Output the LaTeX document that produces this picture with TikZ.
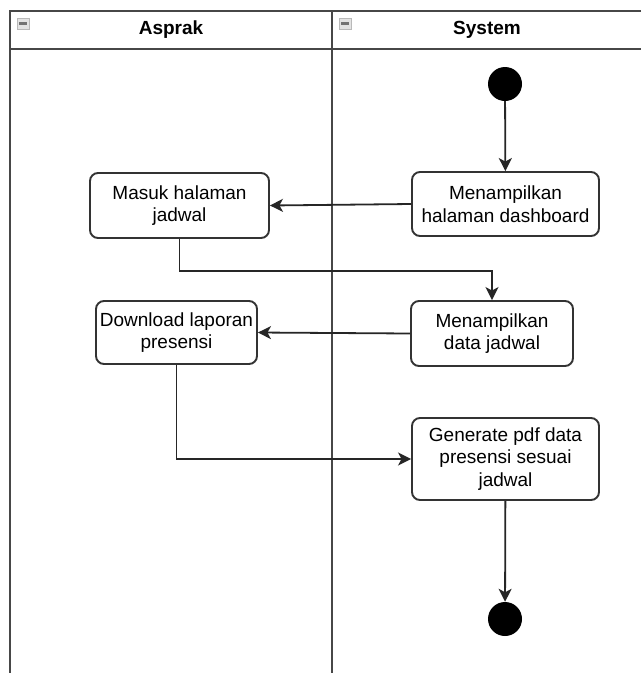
\documentclass[tikz,border=0pt]{standalone}
\usepackage{fontspec}
\setmainfont{Liberation Sans}
\usetikzlibrary{arrows.meta}
\begin{document}
\begin{tikzpicture}[x=1pt,y=-1pt,
  lane/.style={draw=black!72, line width=2.1pt},
  act/.style={draw=black!80, line width=1.9pt, rounded corners=8pt, fill=white,
    align=center, inner sep=0pt, font=\fontsize{19}{22.6}\selectfont},
  flow/.style={draw=black!85, line width=1.8pt,
    -{Stealth[length=13pt,width=13pt,inset=3.5pt]}},
  dot/.style={circle, fill=black, minimum size=34pt, inner sep=0pt},
  lanehead/.style={inner sep=0pt, font=\fontsize{19}{22}\selectfont\bfseries},
  foldbox/.style={draw=gray!55, fill=gray!22, line width=0.6pt},
  foldbar/.style={fill=black!55}
]
\useasboundingbox (0,0) rectangle (641,673);
\fill[white] (0,0) rectangle (641,673);

% pool outline and lane separators
\draw[lane] (641,11) -- (10,11) -- (10,673);
\draw[lane] (10,49) -- (641,49);
\draw[lane] (332,11) -- (332,673);

% collapse markers in the lane headers
\draw[foldbox] (17,18) rectangle (29,29);
\fill[foldbar] (19,22.3) rectangle (27,25.3);
\draw[foldbox] (339,18) rectangle (351,29);
\fill[foldbar] (341,22.3) rectangle (349,25.3);

% lane titles
\node[lanehead] (asprak) at (171,30) {Asprak};
\node[lanehead] (system) at (487,30) {System};

% activities
\node[dot] (start) at (505,84) {};
\node[act, minimum width=187pt, minimum height=64pt] (dash) at (505.5,204)
  {Menampilkan\\halaman dashboard};
\node[act, minimum width=179pt, minimum height=65pt] (masuk) at (179.5,205.5)
  {Masuk halaman\\jadwal};
\node[act, minimum width=162pt, minimum height=65pt] (data) at (492,333.5)
  {Menampilkan\\data jadwal};
\node[act, minimum width=161pt, minimum height=63pt] (download) at (176.5,332.5)
  {Download laporan\\presensi};
\node[act, minimum width=187pt, minimum height=82pt] (gen) at (505.5,459)
  {Generate pdf data\\presensi sesuai\\jadwal};
\node[dot] (end) at (505,619) {};

% control flow
\draw[flow] (start) -- (dash);
\draw[flow] (dash.west) -- (masuk.east);
\draw[flow] (masuk.south) -- ++(0,32) -| (data.north);
\draw[flow] (data.west) -- (download.east);
\draw[flow] (download.south) |- (gen.west);
\draw[flow] (gen) -- (end);
\end{tikzpicture}
\end{document}
